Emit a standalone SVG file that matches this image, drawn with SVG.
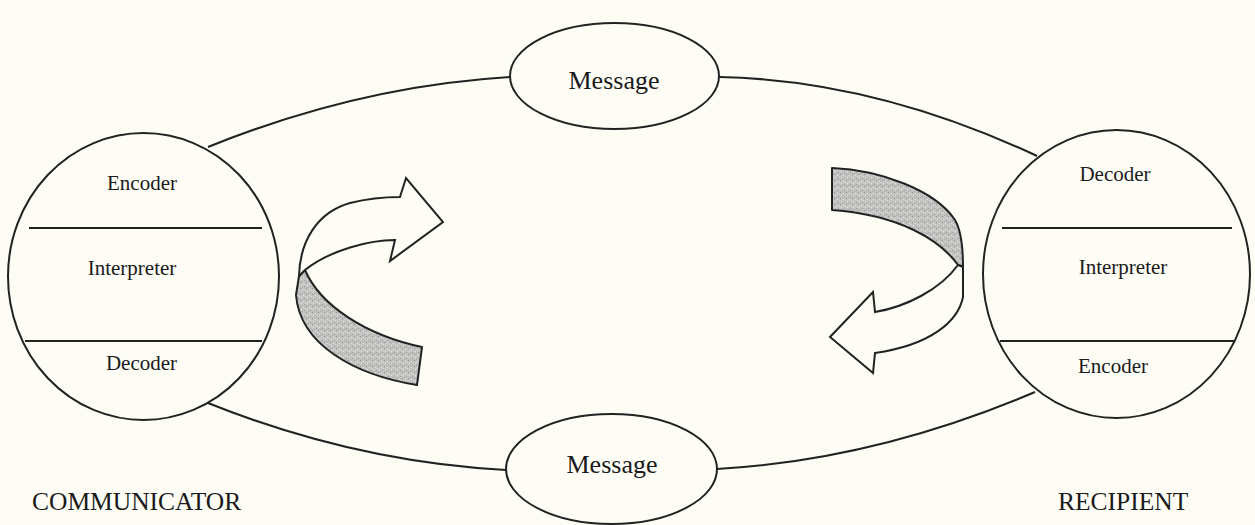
<svg xmlns="http://www.w3.org/2000/svg" width="1255" height="525" viewBox="0 0 1255 525">
  <style>
    .shape { fill: none; stroke: #222; stroke-width: 2; }
    .node { fill: #fdfdf6; stroke: #222; stroke-width: 2; }
    .divider { stroke: #222; stroke-width: 2; }
    .conn { fill: none; stroke: #222; stroke-width: 2; }
    .label { font-family: "Liberation Serif", "Times New Roman", serif; fill: #1a1a1a; }
    .small { font-size: 21px; text-anchor: middle; }
    .msg { font-size: 26px; text-anchor: middle; }
    .role { font-size: 25.5px; }
    .band { fill: url(#stipple); stroke: #222; stroke-width: 2; stroke-linejoin: round; }
    .arrow { fill: #fdfdf6; stroke: #222; stroke-width: 2; stroke-linejoin: miter; }
  </style>
  <defs>
    <!-- speckled grey for the twisted part of each curved arrow -->
    <pattern id="stipple" width="6" height="6" patternUnits="userSpaceOnUse">
      <rect width="6" height="6" fill="#c2c2c0"/>
      <rect x="0" y="0" width="1" height="1" fill="#8f8f8d"/>
      <rect x="3" y="1" width="1" height="1" fill="#e4e4e2"/>
      <rect x="1" y="3" width="1" height="1" fill="#e6e6e4"/>
      <rect x="4" y="4" width="1" height="1" fill="#9a9a98"/>
      <rect x="2" y="5" width="1" height="1" fill="#a8a8a6"/>
      <rect x="5" y="2" width="1" height="1" fill="#dadad8"/>
    </pattern>
  </defs>

  <rect width="1255" height="525" fill="#fdfdf6"/>

  <!-- links between the two parties and the messages -->
  <g id="connectors">
    <path class="conn" d="M208,147 Q359,86 510,77"/>
    <path class="conn" d="M719,77 Q875,80 1037,156"/>
    <path class="conn" d="M208,403 Q355,462 506,470"/>
    <path class="conn" d="M717,469 Q875,460 1035,392"/>
  </g>

  <g id="message-top">
    <ellipse class="node" cx="614.5" cy="76" rx="104.5" ry="53"/>
    <text class="label msg" x="614" y="89">Message</text>
  </g>

  <g id="message-bottom">
    <ellipse class="node" cx="611.5" cy="469" rx="105.5" ry="55"/>
    <text class="label msg" x="612" y="473">Message</text>
  </g>

  <g id="communicator">
    <ellipse class="node" cx="143.5" cy="276.5" rx="135.5" ry="143.5"/>
    <line class="divider" x1="29" y1="228" x2="262" y2="228"/>
    <line class="divider" x1="25" y1="341" x2="262" y2="341"/>
    <text class="label small" x="142" y="190">Encoder</text>
    <text class="label small" x="132" y="275">Interpreter</text>
    <text class="label small" x="141.5" y="370">Decoder</text>
    <text class="label role" x="32" y="510">COMMUNICATOR</text>
  </g>

  <g id="recipient">
    <ellipse class="node" cx="1116.5" cy="274" rx="133.5" ry="144"/>
    <line class="divider" x1="1002" y1="228" x2="1232" y2="228"/>
    <line class="divider" x1="1000" y1="341" x2="1235" y2="341"/>
    <text class="label small" x="1115" y="181">Decoder</text>
    <text class="label small" x="1123" y="274">Interpreter</text>
    <text class="label small" x="1113" y="373">Encoder</text>
    <text class="label role" x="1058" y="510">RECIPIENT</text>
  </g>

  <!-- curved arrow on the communicator side: twisted band rising into an arrow pointing right -->
  <g id="arrow-left">
    <path class="band" d="M305,270 C320,305 365,335 422,347 L417,385 C355,375 300,345 296,295 L299,276 Z"/>
    <path class="arrow" d="M299,276 C300,240 318,212 350,203 C370,198 390,197 400,197 L406,178 L443,222 L390,261 L395,240 C370,240 330,250 305,270 Z"/>
  </g>

  <!-- curved arrow on the recipient side: twisted band falling into an arrow pointing left -->
  <g id="arrow-right">
    <path class="band" d="M832,168 C880,170 935,190 955,220 C962,232 963,250 963,267 L958,265 C940,240 900,215 832,210 Z"/>
    <path class="arrow" d="M958,265 L963,267 L963,297 C958,322 930,345 875,353 L873,373 L830,337 L873,292 L875,312 C905,307 940,290 958,265 Z"/>
  </g>
</svg>
